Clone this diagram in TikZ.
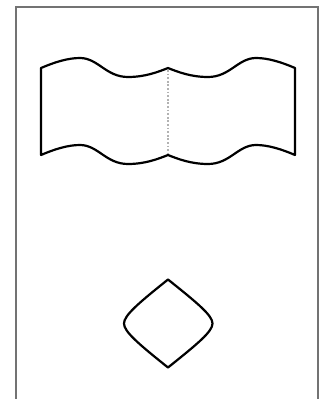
\documentclass[tikz,border=0pt]{standalone}
\usepackage{tikz}
\usepackage[dvipsnames]{xcolor}

\begin{document}
\begin{tikzpicture}[x=1pt, y=-1pt]
				\useasboundingbox (0, 0) rectangle (322, 399);
				\draw[black!55, line width=1.2pt] (16, 399) -- (16, 7) -- (318, 7) -- (318, 399);
				% Flag with wavy top and bottom edges
				\draw[line width=2.2pt, line join=round]
					(41, 68) .. controls (55, 62) and (68, 58) .. (80, 58)
					.. controls (98, 58) and (106, 77) .. (128, 77)
					.. controls (145, 77) and (158, 72) .. (168, 68)
					.. controls (178, 72) and (191, 77) .. (208, 77)
					.. controls (230, 77) and (238, 58) .. (256, 58)
					.. controls (268, 58) and (281, 62) .. (295, 68)
					-- (295, 155)
					.. controls (281, 149) and (268, 145) .. (256, 145)
					.. controls (238, 145) and (230, 164) .. (208, 164)
					.. controls (191, 164) and (178, 159) .. (168, 155)
					.. controls (158, 159) and (145, 164) .. (128, 164)
					.. controls (106, 164) and (98, 145) .. (80, 145)
					.. controls (68, 145) and (55, 149) .. (41, 155)
					-- cycle;
				\coordinate (fold top) at (168, 70);
				\coordinate (fold bottom) at (168, 153);
				\draw[black!30, line width=2pt, dash pattern=on 1.8pt off 1.8pt] (fold top) -- (fold bottom);
				% Rounded diamond below
				\draw[line width=2.2pt, line join=round]
					(168, 279.5) .. controls (198, 303.5) and (212.5, 315.5) .. (212.5, 323.5)
					.. controls (212.5, 331.5) and (198, 343.5) .. (168, 367.5)
					.. controls (138, 343.5) and (124, 331.5) .. (124, 323.5)
					.. controls (124, 315.5) and (138, 303.5) .. (168, 279.5)
					-- cycle;
			\end{tikzpicture}
\end{document}
